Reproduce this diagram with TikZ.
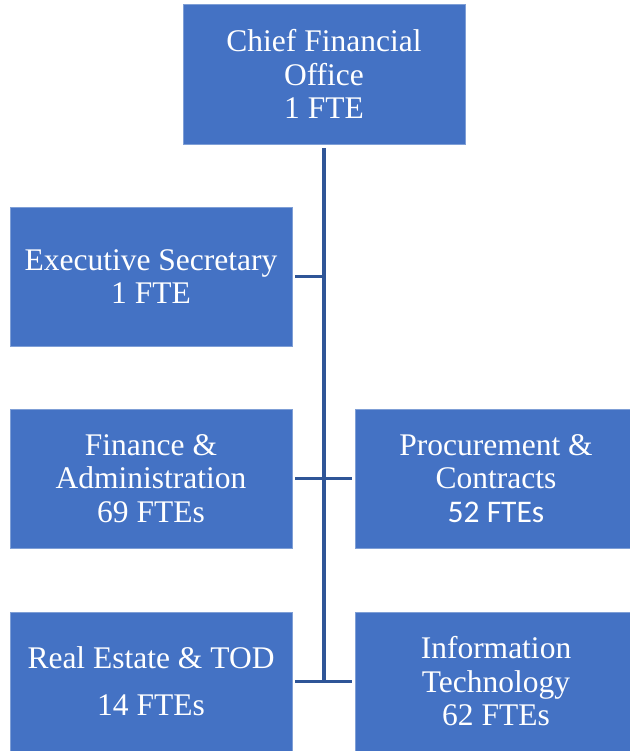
\documentclass[tikz,border=0pt]{standalone}
\usepackage{fontspec}
\setmainfont{Liberation Serif}
\newfontfamily\calib{Carlito}
\definecolor{boxfill}{HTML}{4472C4}
\definecolor{boxedge}{HTML}{7F9FD6}
\definecolor{linkblue}{HTML}{2F5597}
\begin{document}
\begin{tikzpicture}[x=1pt,y=-1pt,
  unit/.style={draw=boxedge, line width=0.8pt, fill=boxfill, text=white, align=center,
    inner sep=0pt, minimum width=282pt, minimum height=139pt,
    font=\fontsize{31.5}{33.5}\selectfont},
  link/.style={draw=linkblue, line width=3.5pt}]
\useasboundingbox (0,0) rectangle (629,751);
\node[unit, minimum height=140pt] (cfo) at (324,74) {Chief Financial\\Office\\1 FTE};
\node[unit] (exec) at (151,276.5) {Executive Secretary\\1 FTE};
\node[unit] (fin) at (151,478.5) {Finance \&\\Administration\\69 FTEs};
\node[unit] (proc) at (496,478.5) {Procurement \&\\Contracts\\{\calib 52 FTEs}};
\node[unit] (re) at (151,681.5) {Real Estate \& TOD\\[13.5pt]14 FTEs};
\node[unit] (it) at (496,681.5) {Information\\Technology\\62 FTEs};
\coordinate (spinetop) at ([yshift=-4pt]cfo.south);
\coordinate (spinebot) at (324,683.25);
\draw[link] (spinetop) -- (spinebot);
\draw[link] ([xshift=3pt]exec.east) -- (exec.east -| spinetop);
\draw[link] ([xshift=3pt]fin.east) -- ([xshift=-3pt]proc.west);
\draw[link] ([xshift=3pt]re.east) -- ([xshift=-3pt]it.west);
\end{tikzpicture}
\end{document}
